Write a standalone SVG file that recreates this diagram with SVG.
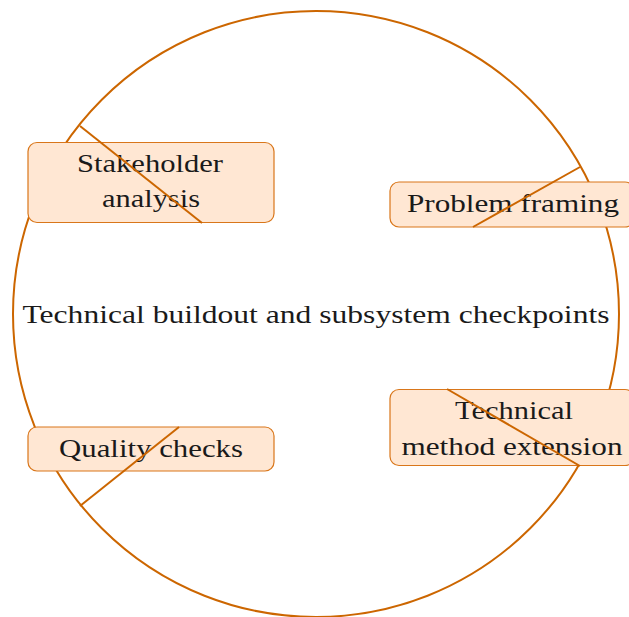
<svg xmlns="http://www.w3.org/2000/svg" width="629" height="617" viewBox="0 0 629 617">
  <style>
    .ring { fill: none; stroke: #CC6600; stroke-width: 2; }
    .box { fill: #FFE7D3; stroke: #D9761A; stroke-width: 1.2; }
    .link { stroke: #CC6600; stroke-width: 2; fill: none; }
    .lbl { font-family: "Liberation Serif", "Times New Roman", serif; font-size: 26px; fill: #1a1a1a; text-anchor: middle; }
  </style>
  <rect width="629" height="617" fill="#ffffff"/>
  <g id="ring">
    <circle class="ring" cx="316" cy="314" r="303"/>
    <text class="lbl" x="316" y="323" textLength="587" lengthAdjust="spacingAndGlyphs">Technical buildout and subsystem checkpoints</text>
  </g>
  <g id="node-stakeholder">
    <rect class="box" x="28" y="142.5" width="246" height="80" rx="9"/>
    <text class="lbl" x="150" y="172" textLength="146" lengthAdjust="spacingAndGlyphs">Stakeholder</text>
    <text class="lbl" x="151" y="207" textLength="98" lengthAdjust="spacingAndGlyphs">analysis</text>
  </g>
  <g id="node-problem">
    <rect class="box" x="390" y="182" width="244" height="45" rx="9"/>
    <text class="lbl" x="513" y="212" textLength="212" lengthAdjust="spacingAndGlyphs">Problem framing</text>
  </g>
  <g id="node-quality">
    <rect class="box" x="28" y="427" width="246" height="44" rx="9"/>
    <text class="lbl" x="151" y="457" textLength="184" lengthAdjust="spacingAndGlyphs">Quality checks</text>
  </g>
  <g id="node-technical">
    <rect class="box" x="390" y="389.5" width="244" height="76" rx="9"/>
    <text class="lbl" x="514" y="419" textLength="118" lengthAdjust="spacingAndGlyphs">Technical</text>
    <text class="lbl" x="512" y="455" textLength="221" lengthAdjust="spacingAndGlyphs">method extension</text>
  </g>
  <g id="connectors">
    <line class="link" x1="80" y1="126" x2="202" y2="223"/>
    <line class="link" x1="580" y1="167" x2="473" y2="227"/>
    <line class="link" x1="80" y1="506" x2="179" y2="427"/>
    <line class="link" x1="447" y1="389" x2="580" y2="466"/>
  </g>
</svg>
